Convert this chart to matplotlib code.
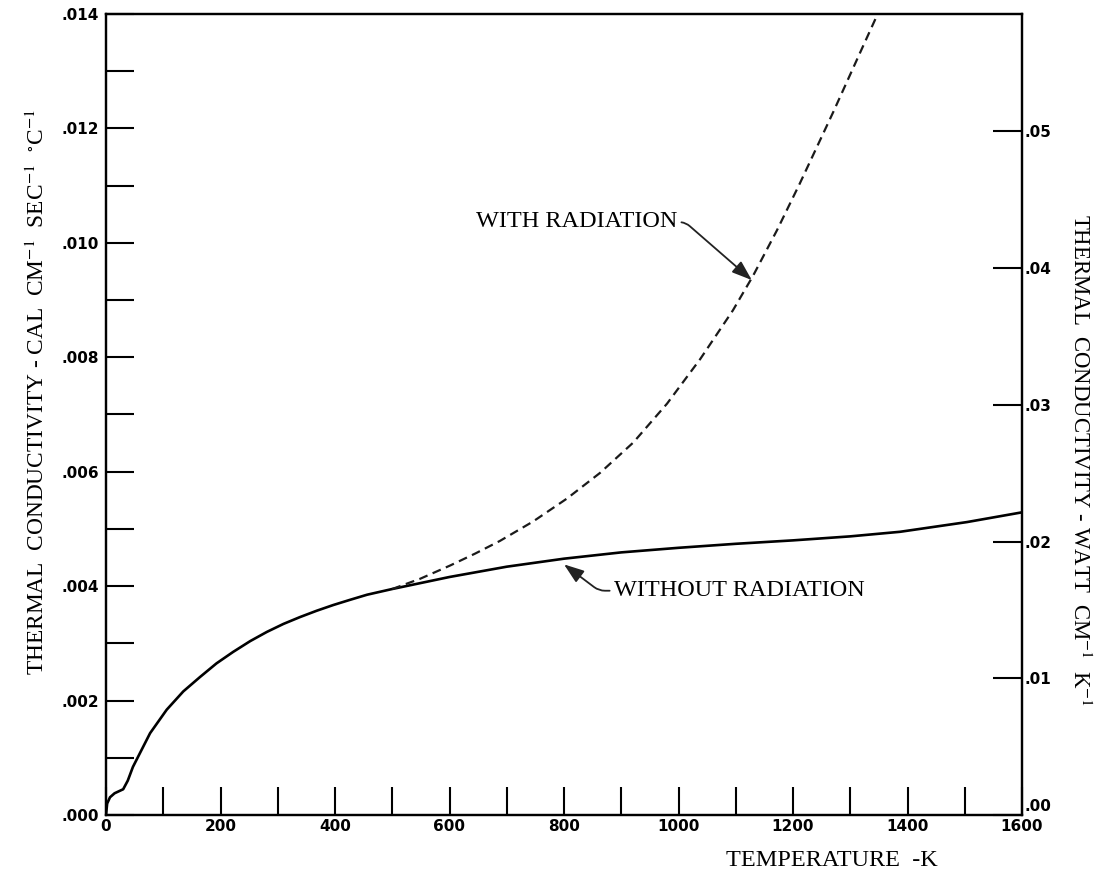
import numpy as np
import matplotlib.pyplot as plt
from matplotlib.ticker import MultipleLocator, FixedLocator, FuncFormatter

# conductivity of the gas, cal cm^-1 sec^-1 C^-1, read against temperature in K
temp_without = [0, 2, 7, 15, 30, 38, 47, 77, 106, 135, 164, 193, 222, 252,
                281, 310, 339, 368, 397, 426, 456, 500, 600, 700, 800, 900,
                1000, 1100, 1200, 1300, 1387, 1504, 1600]
k_without = [0.00000, 0.00020, 0.00031, 0.00038, 0.00045, 0.00060, 0.00084,
             0.00143, 0.00184, 0.00216, 0.00241, 0.00265, 0.00285, 0.00304,
             0.00320, 0.00334, 0.00346, 0.00357, 0.00367, 0.00376, 0.00385,
             0.00395, 0.00416, 0.00434, 0.00448, 0.00459, 0.00467, 0.00474,
             0.00480, 0.00487, 0.00495, 0.00512, 0.00529]

temp_with = [500, 549, 601, 645, 688, 746, 805, 863, 921, 980, 1038, 1095,
             1130, 1172, 1212, 1270, 1317, 1352]
k_with = [0.00395, 0.00413, 0.00436, 0.00457, 0.00479, 0.00513, 0.00553,
          0.00598, 0.00651, 0.00719, 0.00797, 0.00882, 0.00942, 0.01022,
          0.01104, 0.01228, 0.01332, 0.01409]

cal_to_watt = 4.184

plt.rcParams['mathtext.fontset'] = 'stix'
serif = 'Liberation Serif'
tick_font = {'family': 'DejaVu Sans', 'weight': 'bold', 'size': 11}

fig = plt.figure(figsize=(11.1, 8.75), dpi=100)
ax = fig.add_axes([106 / 1110, 60 / 875, 916 / 1110, 801 / 875])

ax.plot(temp_without, k_without, color='black', lw=1.9,
        solid_capstyle='round', solid_joinstyle='round')
ax.plot(temp_with, k_with, color='#1a1a1a', lw=1.6, dashes=(4, 2.5))

ax.set_xlim(0, 1600)
ax.set_ylim(0, 0.014)

for s in ax.spines.values():
    s.set_linewidth(1.6)

ax.xaxis.set_major_locator(MultipleLocator(200))
ax.xaxis.set_minor_locator(MultipleLocator(100))
ax.yaxis.set_major_locator(MultipleLocator(0.002))
ax.yaxis.set_minor_locator(MultipleLocator(0.001))
ax.yaxis.set_major_formatter(FuncFormatter(lambda v, p: f'{v:.3f}'.lstrip('0')))

ax.tick_params(which='both', direction='in', length=20, width=1.5,
               top=False, right=False)
ax.tick_params(axis='x', which='major', pad=3)
ax.tick_params(axis='y', which='major', pad=5)
for lab in ax.get_xticklabels() + ax.get_yticklabels():
    lab.set(**tick_font)

# second scale on the right in watt cm^-1 K^-1
ax2 = ax.twinx()
ax2.set_ylim(0, 0.014 * cal_to_watt)
ax2.yaxis.set_major_locator(FixedLocator([0.0, 0.01, 0.02, 0.03, 0.04, 0.05]))
ax2.yaxis.set_major_formatter(
    FuncFormatter(lambda v, p: f'{v:.2f}'.lstrip('0') if v > 0 else ''))
ax2.tick_params(direction='in', length=21, width=1.5, pad=2, left=False)
for lab in ax2.get_yticklabels():
    lab.set(**tick_font)
for s in ax2.spines.values():
    s.set_linewidth(1.6)
# the zero of the right scale sits a little above the corner
ax2.annotate('.00', xy=(1, 0), xycoords='axes fraction', xytext=(2, 6),
             textcoords='offset points', ha='left', va='center', **tick_font)

# labels
fig.text(0.034, 0.552,
         r'THERMAL  CONDUCTIVITY - CAL  CM$^{-1}$  SEC$^{-1}$  $^{\circ}$C$^{-1}$',
         rotation=90, ha='center', va='center', family=serif, fontsize=16.8)
fig.text(0.973, 0.474,
         r'THERMAL  CONDUCTIVITY - WATT  CM$^{-1}$  K$^{-1}$',
         rotation=270, ha='center', va='center', family=serif, fontsize=16.4)
fig.text(0.749, 0.017, 'TEMPERATURE  -K', ha='center', va='center',
         family=serif, fontsize=17.5)

arrow = dict(arrowstyle='-|>,head_length=0.7,head_width=0.25', color='#222222',
             lw=1.3, shrinkA=1, shrinkB=0)

ax.annotate('WITH RADIATION', xy=(1128, 0.00935), xytext=(822, 0.01038),
            ha='center', va='center', family=serif, fontsize=17.5,
            arrowprops=dict(arrow, relpos=(1, 0.45),
                            connectionstyle='angle,angleA=0,angleB=-41,rad=6'))
ax.annotate('WITHOUT RADIATION', xy=(800, 0.00438), xytext=(1106, 0.00392),
            ha='center', va='center', family=serif, fontsize=17.5,
            arrowprops=dict(arrow, relpos=(0, 0.5),
                            connectionstyle='angle,angleA=0,angleB=-37,rad=6'))

fig.savefig('out.png', dpi=100)
